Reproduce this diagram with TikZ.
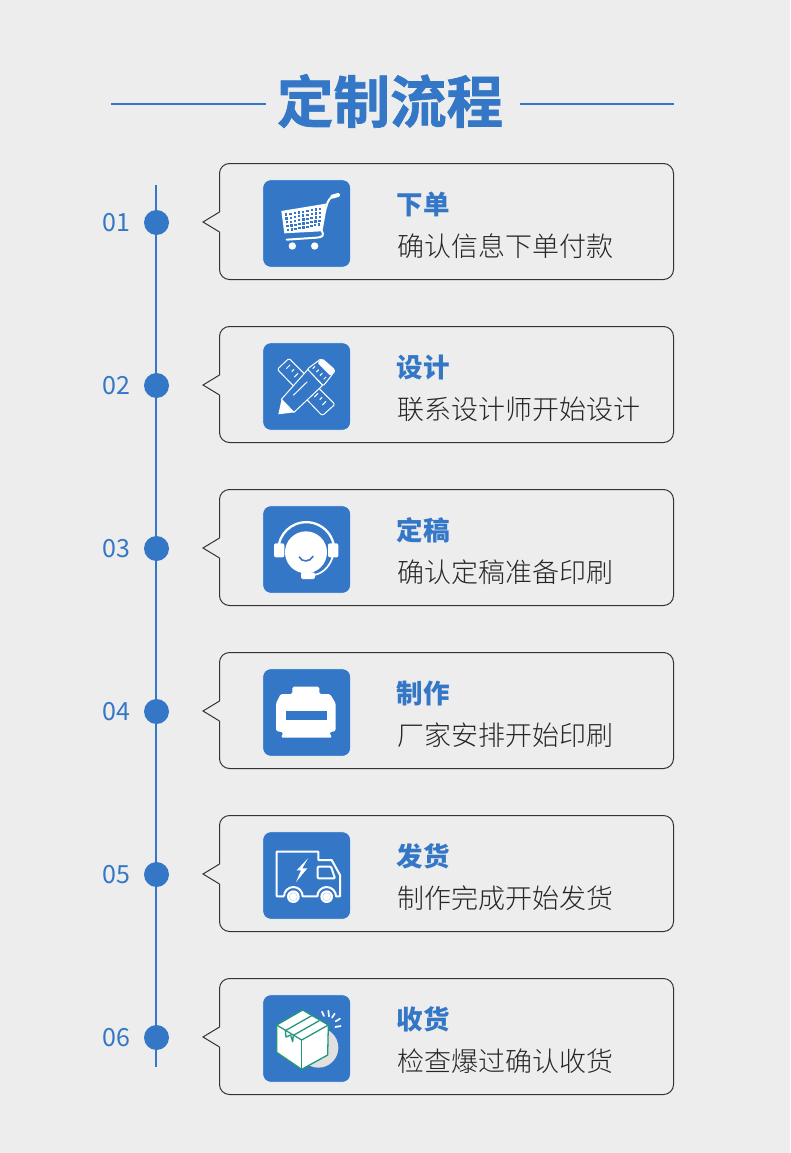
\documentclass[tikz,border=0pt]{standalone}
\usepackage{fontspec}
\setmainfont{Noto Sans CJK SC}
\newfontfamily\titlefont[FakeBold=1.2]{Noto Sans CJK SC Bold}
\newfontfamily\lightfont{Noto Sans CJK SC Light}
\definecolor{bgc}{HTML}{EDEDED}
\definecolor{bluec}{HTML}{3577C7}
\definecolor{inkc}{HTML}{333333}
\definecolor{bodyc}{HTML}{262626}
\definecolor{boxgreen}{HTML}{24967C}
\tikzset{
  titletext/.style={inner sep=0pt,font=\titlefont\fontsize{56.5}{60}\selectfont,text=bluec},
  rulestyle/.style={draw=bluec,line width=2pt},
  spinestyle/.style={draw=bluec,line width=2.6pt},
  dotstyle/.style={circle,fill=bluec,minimum size=25pt,inner sep=0pt},
  numstyle/.style={inner sep=0pt,font=\fontsize{25}{27}\selectfont,text=bluec},
  cardstyle/.style={draw=inkc,line width=1pt,rounded corners=10pt},
  tilestyle/.style={fill=bluec,draw=white,line width=.5pt,rounded corners=8pt},
  headstyle/.style={anchor=west,inner sep=0pt,font=\fontsize{26.5}{28}\selectfont\bfseries,text=bluec},
  bodystyle/.style={anchor=west,inner sep=0pt,font=\lightfont\fontsize{27}{29}\selectfont,text=bodyc},
  iconline/.style={draw=white,line width=2pt,line join=round},
}
\newcommand{\card}[5]{%
  \coordinate (tip#1) at (203,#2);
  \draw[cardstyle] (219.5,#2+10) -- (219.5,#2+57.5) -- (673.5,#2+57.5) -- (673.5,#2-58.5) -- (219.5,#2-58.5) -- (219.5,#2-10);
  \draw[draw=inkc,line width=1pt,line join=miter] (219.5,#2-10) -- (tip#1) -- (219.5,#2+10);
  \node[dotstyle] (dot#1) at (156.5,#2+.5) {};
  \node[numstyle] (num#1) at (116.5,#2+.5) {#3};
  \node[headstyle] (head#1) at (396.5,#2-17.5) {#4};
  \node[bodystyle] (body#1) at (397,#2+24) {#5};
  \draw[tilestyle] (262.8,#2-42.2) rectangle (350.5,#2+45.2);
}
\begin{document}
\begin{tikzpicture}[x=1pt,y=-1pt]
\useasboundingbox[fill=bgc] (0,0) rectangle (790,1153);
% title
\node[titletext] (title) at (390,101) {定制流程};
\coordinate (ruleAa) at (111,104); \coordinate (ruleAb) at (266,104);
\coordinate (ruleBa) at (520,104); \coordinate (ruleBb) at (674,104);
\draw[rulestyle] (ruleAa) -- (ruleAb);
\draw[rulestyle] (ruleBa) -- (ruleBb);
% spine
\coordinate (spinetop) at (156,185); \coordinate (spinebot) at (156,1067);
\draw[spinestyle] (spinetop) -- (spinebot);
% cards
\card{1}{222}{01}{下单}{确认信息下单付款}
\card{2}{385}{02}{设计}{联系设计师开始设计}
\card{3}{548}{03}{定稿}{确认定稿准备印刷}
\card{4}{711}{04}{制作}{厂家安排开始印刷}
\card{5}{874}{05}{发货}{制作完成开始发货}
\card{6}{1037}{06}{收货}{检查爆过确认收货}
% cart icon
\begin{scope}[shift={(90,160)},x=1/3*1pt,y=-1/3*1pt]
  \fill[white] (574,153) -- (708,131) -- (692,214) -- (583,220) -- cycle;
  \foreach \c in {0,...,8}{\foreach \r in {0,...,4}{
    \fill[bluec] ({585+\c*12.8+\r*1.2-\r*\c*.25},{160-\c*2.1+\r*11.8}) rectangle ++(7,6.8);
  }}
  \draw[white,line width=2pt] (694,214) .. controls (704,170) and (706,108) .. (735,108);
  \draw[white,line width=4pt,line cap=round] (727,110) -- (744,105);
  \draw[white,line width=2pt,line cap=round] (695,212) .. controls (704,226) and (697,232) .. (680,233) -- (590,239);
  \fill[white] (607,258) circle (11);
  \fill[white] (674,258) circle (11);
  % pencil and ruler icon
  \draw[white,line width=1pt,rounded corners=1.5pt] (562,628) -- (597,595) -- (735,733) -- (697,767) -- cycle;
  \foreach \a/\b/\l in {600/615/11,612/628/7,624/640/11,636/652/7,672/688/7,684/700/11,696/712/7,708/724/11}
    \draw[white,line width=1pt] (\a,\b) -- ++(-\l,\l);
  \path[fill=bluec,draw=white,line width=1pt,line join=round] (574,718) -- (654,628) -- (698,676) -- (612,757) -- cycle;
  \fill[white] (565,763) -- (575,717) -- (612,757) -- cycle;
  \path[fill=bluec,draw=white,line width=1pt,line join=round,rounded corners=1pt] (652,627) -- (692,597) -- (735,632) -- (718,655) -- (700,677) -- cycle;
  \fill[white,rounded corners=1.5pt] (682,608) -- (697,595) -- (735,628) -- (722,648) -- cycle;
  \draw[white,line width=1pt] (610,706) -- (652,665);
  \foreach \a/\b in {668/626,679/636,690/647,701/658}
    \draw[white,line width=1pt] (\a,\b) -- ++(7,-7);
\end{scope}
% headset and printer icons
\begin{scope}[shift={(250,495)},x=1/3*1pt,y=-1/3*1pt]
  \fill[white] (168,172) circle (63);
  \draw[white,line width=2.3pt] (86,180) arc[start angle=170,end angle=370,radius=84];
  \fill[white,rounded corners=2pt] (72,145) rectangle (103,187);
  \fill[white,rounded corners=2pt] (234,145) rectangle (265,187);
  \draw[white,line width=1.7pt] (248,185) .. controls (240,215) and (215,238) .. (190,240);
  \fill[white,rounded corners=2pt] (153,232) rectangle (195,252);
  \draw[bluec,line width=1.6pt,line cap=round] (148,186) .. controls (155,202) and (180,202) .. (189,184);
  \path[fill=white,rounded corners=1.5pt] (127,597) -- (127,575) -- (208,575) -- (208,597) -- (240,597) -- (257,625) -- (257,708) -- (238,712) -- (246,728) -- (93,728) -- (100,712) -- (78,708) -- (78,625) -- (92,597) -- cycle;
  \fill[bluec] (107,649) rectangle (230,676);
\end{scope}
% truck and parcel icons
\begin{scope}[shift={(250,825)},x=1/3*1pt,y=-1/3*1pt]
  \draw[iconline] (102,214) -- (80,214) -- (80,80) -- (205,80) -- (205,105) -- (245,105) -- (270,150) -- (270,214) -- (258,214) arc[start angle=0,end angle=-180,radius=28] -- (158,214) arc[start angle=0,end angle=-180,radius=28];
  \fill[white] (130,215) circle (19);
  \fill[white] (230,215) circle (19);
  \draw[bluec!30,line width=.5pt] (130,215) circle (12);
  \draw[bluec!30,line width=.5pt] (230,215) circle (12);
  \draw[iconline,rounded corners=1pt] (203,125) -- (243,125) -- (255,160) -- (203,160) -- cycle;
  \fill[white] (174,100) -- (140,136) -- (153,136) -- (138,171) -- (172,130) -- (157,130) -- cycle;
  % parcel
  \fill[black!12] (205,668) circle (60);
  \path[fill=white,draw=boxgreen,line width=1.3pt,line join=round] (158,555) -- (235,600) -- (233,690) -- (155,733) -- (80,682) -- (80,600) -- cycle;
  \draw[boxgreen,line width=1.3pt,line join=round] (80,600) -- (155,645) -- (235,600);
  \draw[boxgreen,line width=1.3pt] (155,645) -- (155,733);
  \draw[boxgreen,line width=1.3pt,line join=round] (185,572) -- (106,617) -- (108,636) -- (122,630) -- (128,650) -- (130,631) -- (208,587);
  \foreach \a/\b/\c/\d in {216/560/222/573, 235/557/237/574, 254/566/246/578, 270/581/257/589, 272/603/256/606}
    \draw[white,line width=1.7pt,line cap=round] (\a,\b) -- (\c,\d);
\end{scope}
\end{tikzpicture}
\end{document}
